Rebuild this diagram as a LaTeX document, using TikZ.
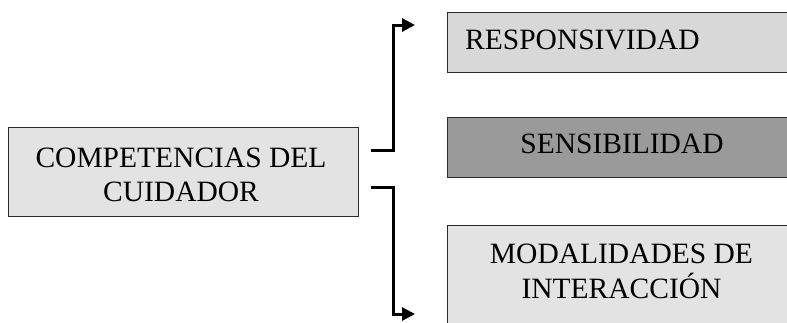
\documentclass[tikz,border=0pt]{standalone}
\usepackage{fontspec}
\setmainfont{Liberation Serif}
\usetikzlibrary{arrows.meta}
\definecolor{boxlight}{HTML}{E3E3E3}
\definecolor{boxmid}{HTML}{D8D8D8}
\definecolor{boxdark}{HTML}{9A9A9A}
\definecolor{boxline}{HTML}{2B2B2B}
\tikzset{
  box/.style={draw=boxline, line width=1.4bp, inner sep=0pt},
  label/.style={inner sep=0pt, text=black,
    font=\fontsize{29.5bp}{35bp}\selectfont},
  link/.style={line width=3bp, line cap=butt, line join=miter,
    -{Triangle[length=13bp,width=13bp]}}
}
\begin{document}
\begin{tikzpicture}[x=1bp, y=-1bp]
  \useasboundingbox (0,0) rectangle (787,322);
  \clip (0,0) rectangle (787,322);
  \fill[white] (0,0) rectangle (787,322);

  % source box
  \node[box, fill=boxlight, minimum width=350bp, minimum height=89bp,
        anchor=north west] (comp) at (8,127) {};
  \node[label, anchor=base] (compa) at (181,167) {COMPETENCIAS DEL};
  \node[label, anchor=base] (compb) at (181,201) {CUIDADOR};

  % target boxes, running past the right edge
  \node[box, fill=boxmid, minimum width=380bp, minimum height=60bp,
        anchor=north west] (resp) at (447,12) {};
  \node[label, anchor=base west] (respt) at (465,49) {RESPONSIVIDAD};

  \node[box, fill=boxdark, minimum width=380bp, minimum height=60bp,
        anchor=north west] (sens) at (447,117) {};
  \node[label, anchor=base] (senst) at (622,153) {SENSIBILIDAD};

  \node[box, fill=boxlight, minimum width=380bp, minimum height=120bp,
        anchor=north west] (moda) at (447,225) {};
  \node[label, anchor=base] (modaa) at (621.5,263) {MODALIDADES DE};
  \node[label, anchor=base] (modab) at (621.5,298) {INTERACCIÓN};

  % connector end points
  \coordinate (up0) at (371,150);
  \coordinate (up1) at (415,25);
  \coordinate (dn0) at (371,187);
  \coordinate (dn1) at (415,314);

  \draw[link] (up0) -- ++(22,0) |- (up1);
  \draw[link] (dn0) -- ++(22,0) |- (dn1);
\end{tikzpicture}
\end{document}
